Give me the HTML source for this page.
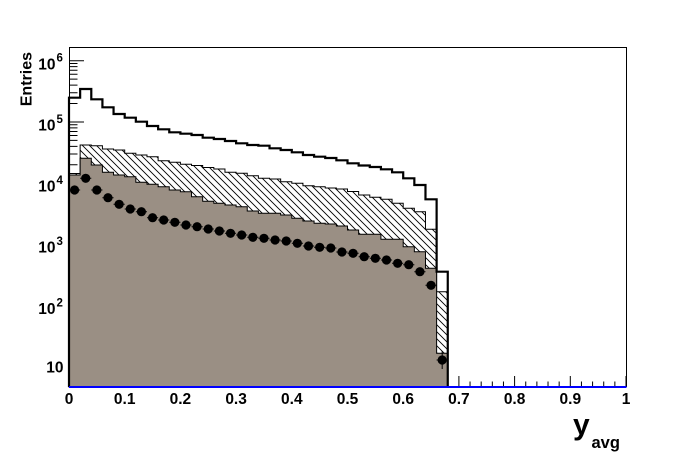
<!DOCTYPE html>
<html>
<head>
<meta charset="utf-8">
<style>
html,body{margin:0;padding:0;background:#fff;}
svg{display:block;}
text{font-family:"Liberation Sans",Arial,sans-serif;font-weight:bold;fill:#000;}
</style>
</head>
<body>
<svg width="696" height="472" viewBox="0 0 696 472" xmlns="http://www.w3.org/2000/svg">
<defs>
<pattern id="hatch" patternUnits="userSpaceOnUse" width="7" height="7">
<path d="M-1,-1 L8,8 M-1,6 L1,8 M6,-1 L8,1" stroke="#000" stroke-width="0.9" fill="none"/>
</pattern>
</defs>
<rect x="0" y="0" width="696" height="472" fill="#fff"/>

<!-- Y axis ticks -->
<g stroke="#000" stroke-width="1" fill="none">
<path d="M69,60.7H84 M69,121.96H84 M69,183.22H84 M69,244.48H84 M69,305.74H84 M69,367H84"/>
<path d="M69,63.5H77.5 M69,66.64H77.5 M69,70.19H77.5 M69,74.29H77.5 M69,79.14H77.5 M69,85.08H77.5 M69,92.73H77.5 M69,103.52H77.5
M69,124.76H77.5 M69,127.9H77.5 M69,131.45H77.5 M69,135.55H77.5 M69,140.4H77.5 M69,146.34H77.5 M69,153.99H77.5 M69,164.78H77.5"/>
</g>
<!-- X axis ticks (visible right part) -->
<g stroke="#000" stroke-width="1" fill="none">
<path d="M447.76,387V381.5 M458.9,387V376 M470.04,387V381.5 M481.18,387V381.5 M492.32,387V381.5 M503.46,387V381.5 M514.6,387V376 M525.74,387V381.5 M536.88,387V381.5 M548.02,387V381.5 M559.16,387V381.5 M570.3,387V376 M581.44,387V381.5 M592.58,387V381.5 M603.72,387V381.5 M614.86,387V381.5 M626,387V376"/>
</g>

<!-- frame -->
<rect x="69.5" y="47.5" width="557" height="339" fill="none" stroke="#000" stroke-width="1"/>

<!-- hatched histogram -->
<path d="M69,387 V173.5 H80.14 V145 H91.28 V145.7 H102.42 V149 H113.56 V150 H124.7 V153.3 H135.84 V155 H146.98 V156.7 H158.12 V160.7 H169.26 V162.3 H180.4 V164.3 H191.54 V165.5 H202.68 V167.5 H213.82 V169 H224.96 V172.3 H236.1 V173.3 H247.24 V175.7 H258.38 V178.3 H269.52 V179 H280.66 V181.7 H291.8 V183.3 H302.94 V185.7 H314.08 V186.7 H325.22 V188 H336.36 V189 H347.5 V191.5 H358.64 V195 H369.78 V197.3 H380.92 V199.3 H392.06 V203.3 H403.2 V208.3 H414.34 V211.7 H425.48 V229.3 H436.62 V291.7 H447.76 V387 Z" fill="url(#hatch)" stroke="#000" stroke-width="1"/>

<!-- grey histogram -->
<path d="M69,387 V175 H80.14 V158.3 H91.28 V165 H102.42 V172.3 H113.56 V175 H124.7 V176.7 H135.84 V182.3 H146.98 V184.3 H158.12 V186.7 H169.26 V190 H180.4 V191.7 H191.54 V196.7 H202.68 V201.3 H213.82 V203.3 H224.96 V205 H236.1 V206.7 H247.24 V211 H258.38 V213.3 H269.52 V213.3 H280.66 V215 H291.8 V218.3 H302.94 V221 H314.08 V223.3 H325.22 V224 H336.36 V226 H347.5 V230 H358.64 V234.3 H369.78 V234.3 H380.92 V239.3 H392.06 V239.3 H403.2 V246.7 H414.34 V251.7 H425.48 V268.3 H436.62 V353.3 H447.76 V387 Z" fill="#9a8f84" stroke="none"/>
<path d="M69,175 H80.14 V158.3 H91.28 V165 H102.42 V172.3 H113.56 V175 H124.7 V176.7 H135.84 V182.3 H146.98 V184.3 H158.12 V186.7 H169.26 V190 H180.4 V191.7 H191.54 V196.7 H202.68 V201.3 H213.82 V203.3 H224.96 V205 H236.1 V206.7 H247.24 V211 H258.38 V213.3 H269.52 V213.3 H280.66 V215 H291.8 V218.3 H302.94 V221 H314.08 V223.3 H325.22 V224 H336.36 V226 H347.5 V230 H358.64 V234.3 H369.78 V234.3 H380.92 V239.3 H392.06 V239.3 H403.2 V246.7 H414.34 V251.7 H425.48 V268.3 H436.62 V353.3 H447.76 V387" fill="none" stroke="#000" stroke-width="1"/>

<!-- thick top histogram -->
<path d="M69,387 V97.7 H80.14 V89 H91.28 V99.3 H102.42 V107.3 H113.56 V114 H124.7 V117.7 H135.84 V121.7 H146.98 V126 H158.12 V129.3 H169.26 V132.3 H180.4 V133.7 H191.54 V135 H202.68 V137.7 H213.82 V139 H224.96 V141 H236.1 V143.3 H247.24 V145 H258.38 V145.7 H269.52 V148.3 H280.66 V150 H291.8 V152.3 H302.94 V155 H314.08 V156.7 H325.22 V158 H336.36 V160.3 H347.5 V163.3 H358.64 V165.5 H369.78 V167 H380.92 V169.3 H392.06 V172.3 H403.2 V178.3 H414.34 V185 H425.48 V199.3 H436.62 V271.7 H447.76 V387" fill="none" stroke="#000" stroke-width="2.2"/>

<!-- data points: x error bars -->
<g stroke="#000" stroke-width="1" fill="none">
<path d="M69,190H80.14 M80.14,178.3H91.28 M91.28,190H102.42 M102.42,197.7H113.56 M113.56,204.3H124.7 M124.7,209H135.84 M135.84,211.7H146.98 M146.98,217.7H158.12 M158.12,220H169.26 M169.26,222.3H180.4 M180.4,225H191.54 M191.54,226.7H202.68 M202.68,229H213.82 M213.82,231H224.96 M224.96,233.3H236.1 M236.1,235H247.24 M247.24,237.3H258.38 M258.38,238.3H269.52 M269.52,240H280.66 M280.66,241H291.8 M291.8,243.3H302.94 M302.94,246H314.08 M314.08,247.3H325.22 M325.22,248H336.36 M336.36,252H347.5 M347.5,253.3H358.64 M358.64,256.7H369.78 M369.78,258.3H380.92 M380.92,260H392.06 M392.06,263.3H403.2 M403.2,264.7H414.34 M414.34,271.7H425.48 M425.48,285.3H436.62 M436.62,360H447.76 M442.19,351V369"/>
</g>
<g fill="#000">
<circle cx="74.57" cy="190" r="4.6"/>
<circle cx="85.71" cy="178.3" r="4.6"/>
<circle cx="96.85" cy="190" r="4.6"/>
<circle cx="107.99" cy="197.7" r="4.6"/>
<circle cx="119.13" cy="204.3" r="4.6"/>
<circle cx="130.27" cy="209" r="4.6"/>
<circle cx="141.41" cy="211.7" r="4.6"/>
<circle cx="152.55" cy="217.7" r="4.6"/>
<circle cx="163.69" cy="220" r="4.6"/>
<circle cx="174.83" cy="222.3" r="4.6"/>
<circle cx="185.97" cy="225" r="4.6"/>
<circle cx="197.11" cy="226.7" r="4.6"/>
<circle cx="208.25" cy="229" r="4.6"/>
<circle cx="219.39" cy="231" r="4.6"/>
<circle cx="230.53" cy="233.3" r="4.6"/>
<circle cx="241.67" cy="235" r="4.6"/>
<circle cx="252.81" cy="237.3" r="4.6"/>
<circle cx="263.95" cy="238.3" r="4.6"/>
<circle cx="275.09" cy="240" r="4.6"/>
<circle cx="286.23" cy="241" r="4.6"/>
<circle cx="297.37" cy="243.3" r="4.6"/>
<circle cx="308.51" cy="246" r="4.6"/>
<circle cx="319.65" cy="247.3" r="4.6"/>
<circle cx="330.79" cy="248" r="4.6"/>
<circle cx="341.93" cy="252" r="4.6"/>
<circle cx="353.07" cy="253.3" r="4.6"/>
<circle cx="364.21" cy="256.7" r="4.6"/>
<circle cx="375.35" cy="258.3" r="4.6"/>
<circle cx="386.49" cy="260" r="4.6"/>
<circle cx="397.63" cy="263.3" r="4.6"/>
<circle cx="408.77" cy="264.7" r="4.6"/>
<circle cx="419.91" cy="271.7" r="4.6"/>
<circle cx="431.05" cy="285.3" r="4.6"/>
<circle cx="442.19" cy="360" r="4.6"/>
</g>

<!-- blue baseline -->
<rect x="69" y="386" width="557.5" height="2" fill="#0000ff"/>

<!-- x labels -->
<g font-size="15.5" text-anchor="middle">
<text x="69" y="404">0</text>
<text x="124.7" y="404">0.1</text>
<text x="180.4" y="404">0.2</text>
<text x="236.1" y="404">0.3</text>
<text x="291.8" y="404">0.4</text>
<text x="347.5" y="404">0.5</text>
<text x="403.2" y="404">0.6</text>
<text x="458.9" y="404">0.7</text>
<text x="514.6" y="404">0.8</text>
<text x="570.3" y="404">0.9</text>
<text x="626" y="404">1</text>
</g>

<!-- y labels -->
<g font-size="15.5">
<text x="55.5" y="69.5" text-anchor="end">10</text><text x="56.5" y="61.5" font-size="11.5">6</text>
<text x="55.5" y="130.5" text-anchor="end">10</text><text x="56.5" y="122.8" font-size="11.5">5</text>
<text x="55.5" y="191.7" text-anchor="end">10</text><text x="56.5" y="184" font-size="11.5">4</text>
<text x="55.5" y="252.5" text-anchor="end">10</text><text x="56.5" y="245" font-size="11.5">3</text>
<text x="55.5" y="313.8" text-anchor="end">10</text><text x="56.5" y="306.3" font-size="11.5">2</text>
<text x="63.5" y="372.5" text-anchor="end">10</text>
</g>

<!-- axis titles -->
<text transform="translate(31.5,52) rotate(-90)" text-anchor="end" font-size="16">Entries</text>
<text x="573" y="434.5" font-size="30">y</text>
<text x="591.5" y="448" font-size="16.5">avg</text>
</svg>
</body>
</html>
